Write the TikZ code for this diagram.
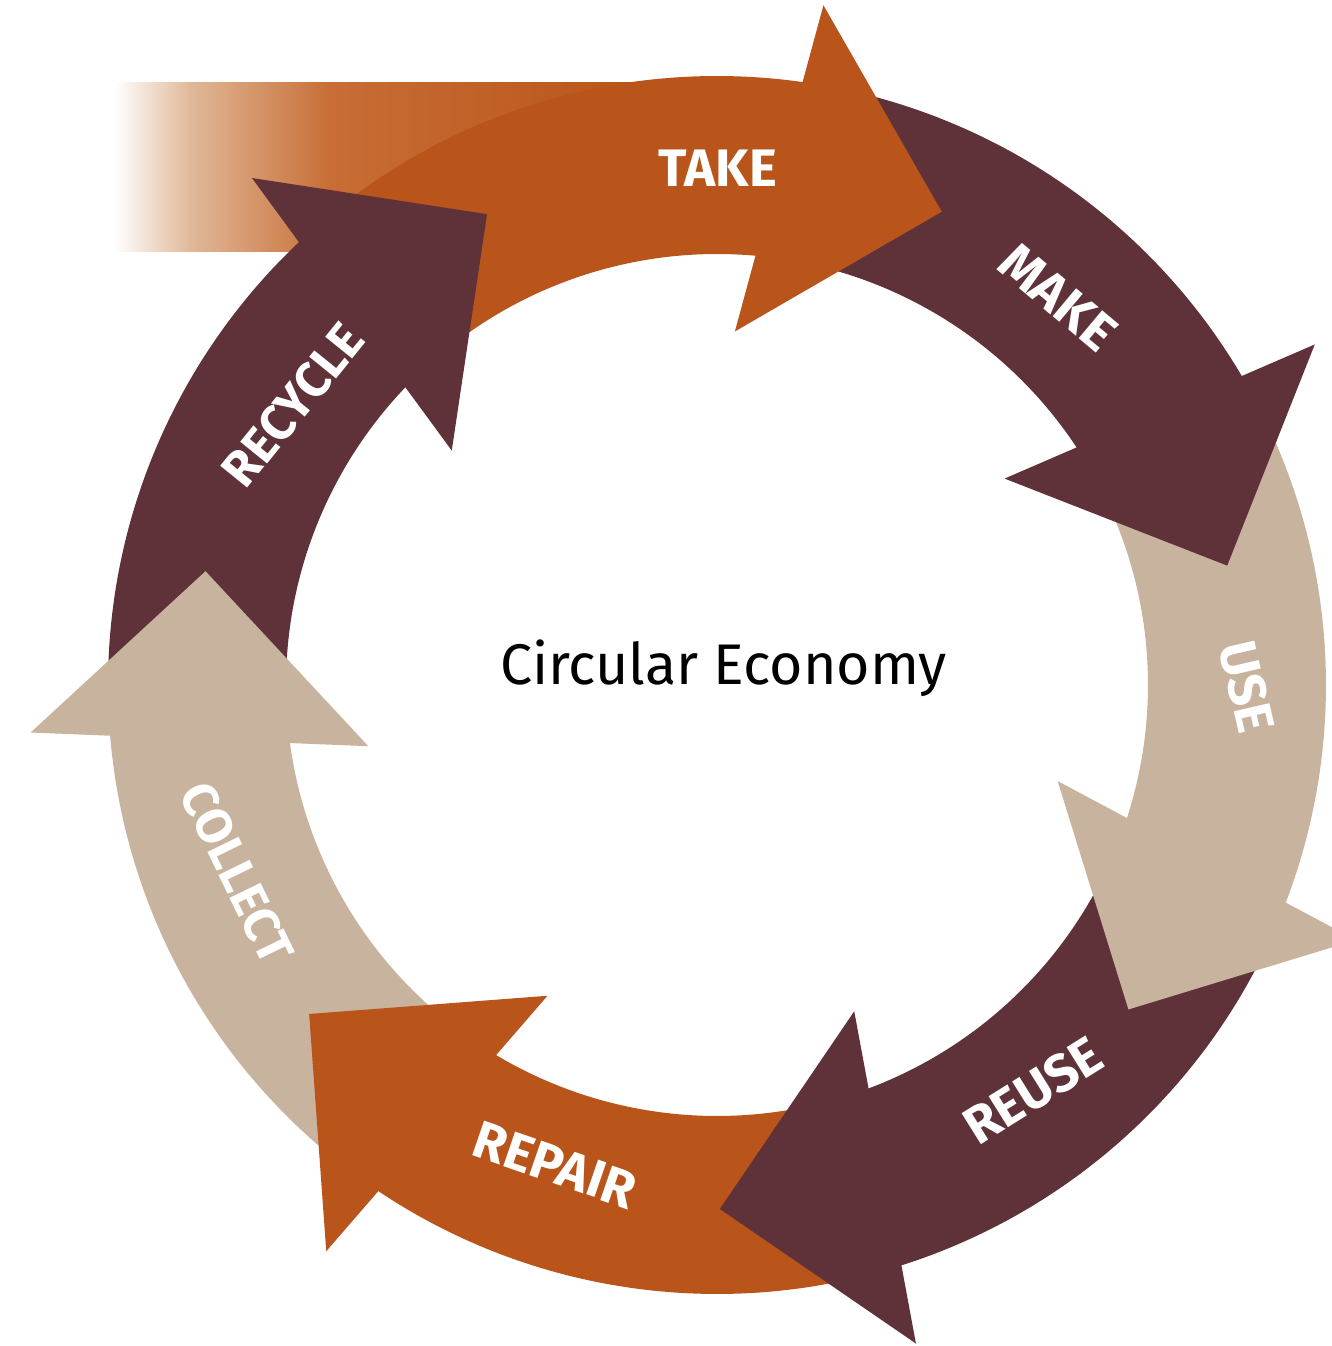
\documentclass[tikz,border=0pt]{standalone}
\usepackage{fontspec}
\setmainfont{Fira Sans}
\definecolor{rust}{HTML}{B9551A}
\definecolor{plum}{HTML}{5F323A}
\definecolor{sand}{HTML}{C8B39F}
\definecolor{peach}{HTML}{E0B898}
\definecolor{copper}{HTML}{C76D35}
\tikzset{
  steplabel/.style={text=white, inner sep=0pt, font=\bfseries\fontsize{15}{15}\selectfont},
}
\begin{document}
\begin{tikzpicture}
	\clip (-7.17,-6.61) rectangle (6.15,6.85);

	% fading band into TAKE
	\shade[left color=white, right color=peach] (-6.03,4.33) rectangle (-5.26,6.02);
	\shade[left color=peach, right color=copper] (-5.27,4.33) rectangle (-3.86,6.02);
	\shade[left color=copper, right color=rust] (-3.87,4.33) rectangle (-0.77,6.02);

	% bodies
	\fill[rust] (128.03:6.09) arc[start angle=128.03, end angle=76.6, radius=6.09cm] -- (76.6:4.31) arc[start angle=76.6, end angle=128.03, radius=4.31cm] -- cycle;
	\fill[plum] (76.6:6.09) arc[start angle=76.6, end angle=25.17, radius=6.09cm] -- (25.17:4.31) arc[start angle=25.17, end angle=76.6, radius=4.31cm] -- cycle;
	\fill[sand] (25.17:6.09) arc[start angle=25.17, end angle=-26.26, radius=6.09cm] -- (-26.26:4.31) arc[start angle=-26.26, end angle=25.17, radius=4.31cm] -- cycle;
	\fill[plum] (-26.26:6.09) arc[start angle=-26.26, end angle=-77.69, radius=6.09cm] -- (-77.69:4.31) arc[start angle=-77.69, end angle=-26.26, radius=4.31cm] -- cycle;
	\fill[rust] (-77.69:6.09) arc[start angle=-77.69, end angle=-129.11, radius=6.09cm] -- (-129.11:4.31) arc[start angle=-129.11, end angle=-77.69, radius=4.31cm] -- cycle;
	\fill[sand] (230.89:6.09) arc[start angle=230.89, end angle=179.46, radius=6.09cm] -- (179.46:4.31) arc[start angle=179.46, end angle=230.89, radius=4.31cm] -- cycle;
	\fill[plum] (179.46:6.09) arc[start angle=179.46, end angle=128.03, radius=6.09cm] -- (128.03:4.31) arc[start angle=128.03, end angle=179.46, radius=4.31cm] -- cycle;

	% heads
	\fill[rust] (64.6:5.24) -- (81.1:6.88) -- (87.1:3.54) -- cycle;
	\fill[plum] (13.17:5.24) -- (29.67:6.88) -- (35.67:3.54) -- cycle;
	\fill[sand] (-38.26:5.24) -- (-21.76:6.88) -- (-15.76:3.54) -- cycle;
	\fill[plum] (-89.69:5.24) -- (-73.19:6.88) -- (-67.19:3.54) -- cycle;
	\fill[rust] (-141.11:5.24) -- (-124.61:6.88) -- (-118.61:3.54) -- cycle;
	\fill[sand] (167.46:5.24) -- (183.96:6.88) -- (189.96:3.54) -- cycle;
	\fill[plum] (116.03:5.24) -- (132.53:6.88) -- (138.53:3.54) -- cycle;

	\node[steplabel] (take) at (0.01,5.17) {TAKE};
	\node[steplabel, rotate=-40] (make) at (3.41,3.88) {MAKE};
	\node[steplabel, rotate=-77] (use) at (5.30,-0.02) {USE};
	\node[steplabel, rotate=32] (reuse) at (3.16,-4.06) {REUSE};
	\node[steplabel, rotate=-19] (repair) at (-1.62,-4.80) {REPAIR};
	\node[steplabel, rotate=-64, font=\bfseries\fontsize{14.2}{14.2}\selectfont] (collect) at (-4.80,-1.88) {COLLECT};
	\node[steplabel, rotate=51, font=\bfseries\fontsize{14.2}{14.2}\selectfont] (recycle) at (-4.24,2.80) {RECYCLE};

	\node[anchor=base, inner sep=0pt, font=\fontsize{16.3}{16.3}\selectfont] (title) at (0.065,0) {Circular Economy};
\end{tikzpicture}
\end{document}
